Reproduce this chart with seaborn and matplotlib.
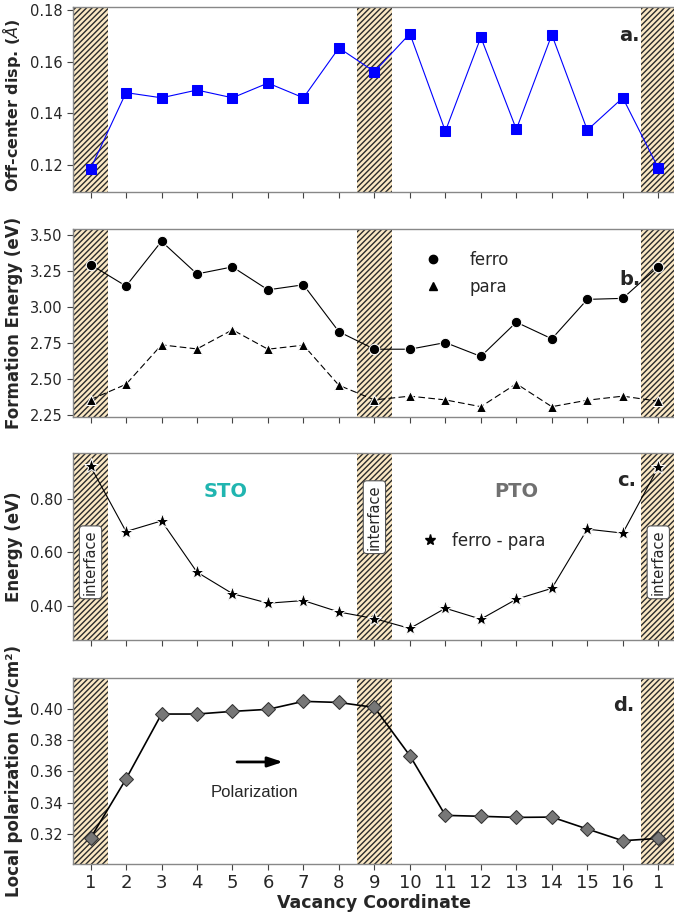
import numpy as np
import pandas as pd
import matplotlib
matplotlib.use('Agg')
import matplotlib.pyplot as plt
from matplotlib.lines import Line2D
import seaborn as sns

# vacancy coordinates (position index, label)
coord_labels = ['1', '2', '3', '4', '5', '6', '7', '8', '9', '10',
                '11', '12', '13', '14', '15', '16', '1']
pos = np.arange(len(coord_labels))

# a. off-center displacement (A)
disp = [0.1185, 0.148, 0.146, 0.149, 0.146, 0.1517, 0.146, 0.1653, 0.1561,
        0.1708, 0.1331, 0.1694, 0.1338, 0.1704, 0.1335, 0.146, 0.1188]

# b. formation energy (eV)
ferro = [3.292, 3.143, 3.453, 3.227, 3.276, 3.117, 3.152, 2.827, 2.706,
         2.706, 2.752, 2.656, 2.893, 2.778, 3.051, 3.058, 3.278]
para = [2.357, 2.463, 2.736, 2.708, 2.84, 2.706, 2.734, 2.456, 2.355,
        2.381, 2.355, 2.308, 2.467, 2.308, 2.353, 2.381, 2.346]

# c. ferro - para (eV)
diff = [0.9245, 0.679, 0.719, 0.526, 0.445, 0.409, 0.419, 0.376, 0.351,
        0.314, 0.39, 0.349, 0.424, 0.465, 0.688, 0.673, 0.921]

# d. local polarization (uC/cm2)
polar = [0.3174, 0.3551, 0.3966, 0.3966, 0.3983, 0.3996, 0.4047, 0.404,
         0.4008, 0.37, 0.3319, 0.3313, 0.3306, 0.3308, 0.3232, 0.3157, 0.3172]

interface_pos = [0, 8, 16]

df = pd.DataFrame({'pos': pos, 'disp': disp, 'ferro': ferro, 'para': para,
                   'diff': diff, 'polar': polar})

sns.set_style('ticks')
plt.rcParams['font.family'] = ['DejaVu Sans']

fig = plt.figure(figsize=(6.74, 9.15), dpi=100)
boxes = [(0.790, 0.992), (0.544, 0.750), (0.301, 0.505), (0.056, 0.259)]
axes = [fig.add_axes([0.108, b, 0.895, t - b]) for b, t in boxes]

for ax in axes:
    for p in interface_pos:
        ax.axvspan(p - 0.5, p + 0.5, facecolor='#fbe8c4', edgecolor='#2b2b2b',
                   hatch='//////', linewidth=0, zorder=0)
    ax.set_xlim(-0.5, 16.5)
    ax.set_xticks(pos)
    ax.tick_params(axis='both', direction='out', length=4, color='#444444',
                   labelsize=10.5)
    for s in ax.spines.values():
        s.set_color('#888888')
        s.set_linewidth(1.0)

# a.
ax = axes[0]
sns.lineplot(data=df, x='pos', y='disp', ax=ax, color='blue', marker='s',
             markersize=7.5, linewidth=0.8, markeredgecolor='blue')
ax.set_ylim(0.1095, 0.181)
ax.set_yticks([0.12, 0.14, 0.16, 0.18])
ax.set_ylabel('Off-center disp. ($\\AA$)', fontsize=11.5, fontweight='bold')
ax.text(0.923, 0.85, 'a.', transform=ax.transAxes, fontsize=14,
        fontweight='bold', ha='center', va='center')

# b.
ax = axes[1]
sns.lineplot(data=df, x='pos', y='ferro', ax=ax, color='k', marker='o',
             markersize=7.5, linewidth=0.8)
sns.lineplot(data=df, x='pos', y='para', ax=ax, color='k', marker='^',
             markersize=7, linewidth=0.8)
ax.lines[-1].set_dashes([6, 3])
ax.set_ylim(2.235, 3.54)
ax.set_yticks([2.25, 2.5, 2.75, 3.0, 3.25, 3.5])
ax.set_yticklabels(['2.25', '2.50', '2.75', '3.00', '3.25', '3.50'])
ax.set_ylabel('Formation Energy (eV)', fontsize=12, fontweight='bold')
handles = [Line2D([], [], color='k', marker='o', linestyle='none', markersize=6),
           Line2D([], [], color='k', marker='^', linestyle='none', markersize=6)]
ax.legend(handles, ['ferro', 'para'], loc='upper left',
          bbox_to_anchor=(0.545, 0.96), frameon=False, fontsize=12,
          handletextpad=1.2, labelspacing=0.5)
ax.text(0.923, 0.73, 'b.', transform=ax.transAxes, fontsize=14,
        fontweight='bold', ha='center', va='center')

# c.
ax = axes[2]
sns.lineplot(data=df, x='pos', y='diff', ax=ax, color='k', marker='*',
             markersize=11, linewidth=0.8)
ax.set_ylim(0.272, 0.975)
ax.set_yticks([0.4, 0.6, 0.8])
ax.set_yticklabels(['0.40', '0.60', '0.80'])
ax.set_ylabel('Energy (eV)', fontsize=12, fontweight='bold')
handles = [Line2D([], [], color='k', marker='*', linestyle='none', markersize=8)]
ax.legend(handles, ['ferro - para'], loc='center left',
          bbox_to_anchor=(0.54, 0.53), frameon=False, fontsize=12,
          handletextpad=0.3)
ax.text(3.8, 0.828, 'STO', color='#20b5b0', fontsize=14, fontweight='bold',
        ha='center', va='center')
ax.text(12.0, 0.828, 'PTO', color='#707070', fontsize=14, fontweight='bold',
        ha='center', va='center')
for p, yy in zip(interface_pos, [0.563, 0.733, 0.563]):
    ax.text(p, yy, 'interface', rotation=90, ha='center', va='center',
            fontsize=10.5,
            bbox=dict(boxstyle='round,pad=0.25', facecolor='white',
                      edgecolor='#555555', linewidth=0.8))
ax.text(0.918, 0.85, 'c.', transform=ax.transAxes, fontsize=14,
        fontweight='bold', ha='center', va='center')

# d.
ax = axes[3]
sns.lineplot(data=df, x='pos', y='polar', ax=ax, color='k', marker='D',
             markersize=7.5, linewidth=1.2, markerfacecolor='#777777',
             markeredgecolor='#333333')
ax.set_ylim(0.301, 0.4196)
ax.set_yticks([0.32, 0.34, 0.36, 0.38, 0.40])
ax.set_yticklabels(['0.32', '0.34', '0.36', '0.38', '0.40'])
ax.set_ylabel('Local polarization (\u03bcC/cm\u00b2)', fontsize=12,
              fontweight='bold')
ax.annotate('', xy=(5.5, 0.366), xytext=(4.05, 0.366),
            arrowprops=dict(arrowstyle='-|>,head_length=0.9,head_width=0.3',
                            color='k', linewidth=2))
ax.text(4.63, 0.3464, 'Polarization', ha='center', va='center', fontsize=12,
        family='Liberation Sans')
ax.text(0.913, 0.85, 'd.', transform=ax.transAxes, fontsize=14,
        fontweight='bold', ha='center', va='center')

for ax in axes:
    ax.yaxis.set_label_coords(-0.082, 0.5)
axes[0].yaxis.set_label_coords(-0.082, 0.47)
for ax in axes[:3]:
    ax.set_xticklabels([])
    ax.set_xlabel('')
axes[3].set_xticklabels(coord_labels, fontsize=13)
axes[3].set_xlabel('Vacancy Coordinate', fontsize=12.5, fontweight='bold',
                   labelpad=1)

fig.savefig('out.png', dpi=100)
